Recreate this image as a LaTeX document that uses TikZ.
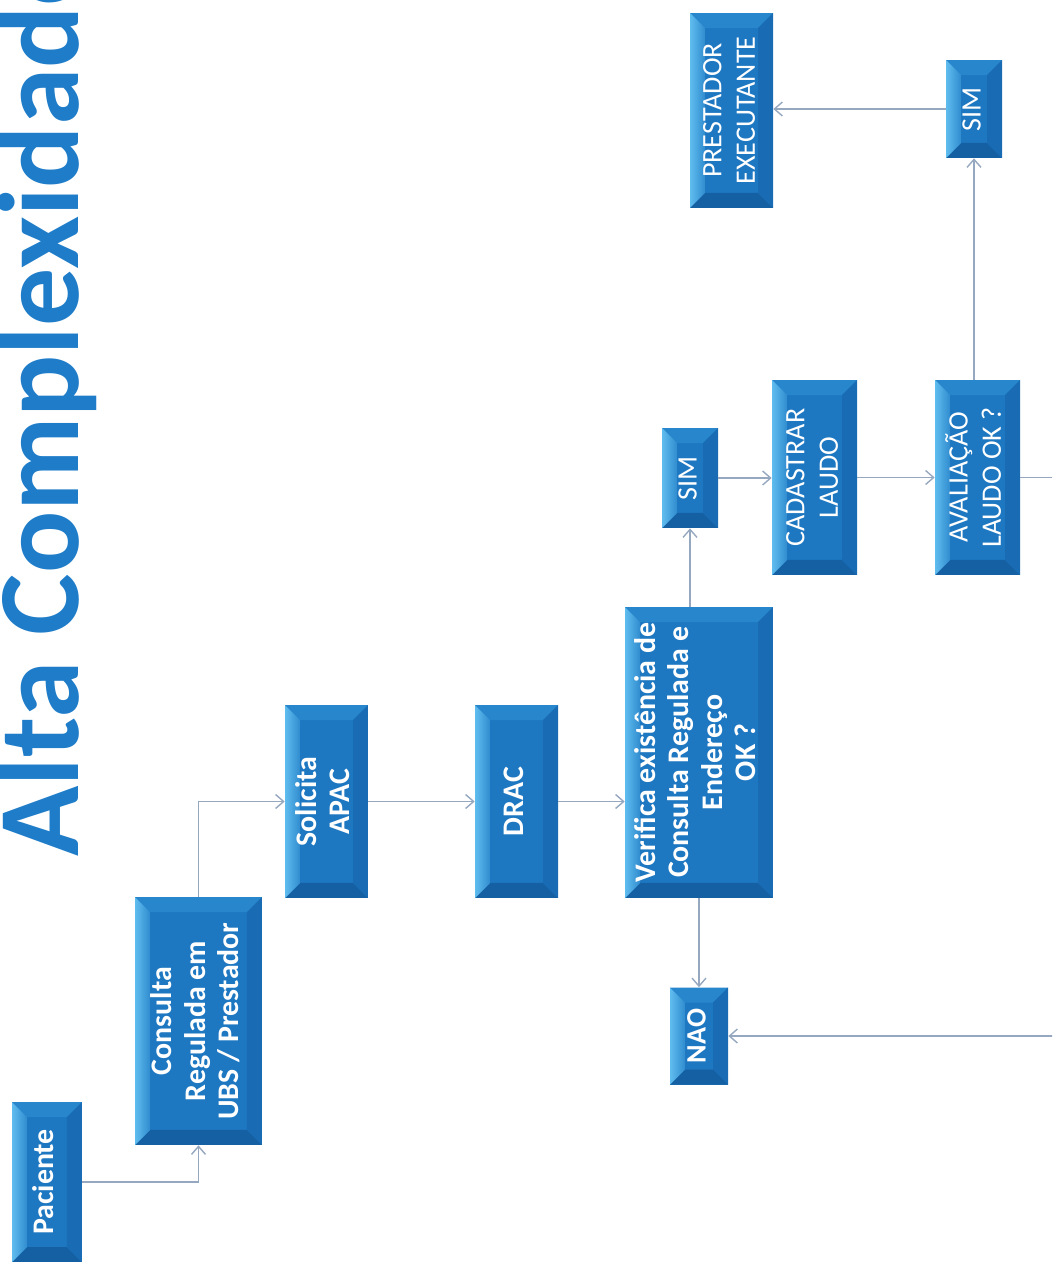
\documentclass[tikz,border=0pt]{standalone}
\usepackage{fontspec}
\setmainfont{Carlito}
\usetikzlibrary{arrows.meta}

\definecolor{boxblue}{RGB}{29,119,193}
\definecolor{bevlight}{RGB}{95,188,238}
\definecolor{bevtop}{RGB}{40,134,205}
\definecolor{bevdark}{RGB}{21,96,162}
\definecolor{bevright}{RGB}{25,108,180}
\definecolor{linegray}{RGB}{150,168,192}
\definecolor{titleblue}{RGB}{30,124,200}

\newcommand{\vtext}[1]{\rotatebox{90}{\begin{tabular}{@{}c@{}}#1\end{tabular}}}
\newcommand{\bv}{0.3cm}

\tikzset{
  box/.style={fill=boxblue, inner sep=0pt, text=white,
    font=\bfseries\fontsize{17}{19}\selectfont,
    path picture={
      \fill[bevtop] (path picture bounding box.north west) -- (path picture bounding box.north east)
        -- ([shift={(-\bv,-\bv)}]path picture bounding box.north east) -- ([shift={(\bv,-\bv)}]path picture bounding box.north west) -- cycle;
      \fill[bevdark] (path picture bounding box.south west) -- (path picture bounding box.south east)
        -- ([shift={(-\bv,\bv)}]path picture bounding box.south east) -- ([shift={(\bv,\bv)}]path picture bounding box.south west) -- cycle;
      \fill[bevright] (path picture bounding box.north east) -- (path picture bounding box.south east)
        -- ([shift={(-\bv,\bv)}]path picture bounding box.south east) -- ([shift={(-\bv,-\bv)}]path picture bounding box.north east) -- cycle;
      \shade[left color=bevlight, right color=boxblue!70!bevlight] (path picture bounding box.south west) -- (path picture bounding box.north west)
        -- ([shift={(\bv,-\bv)}]path picture bounding box.north west) -- ([shift={(\bv,\bv)}]path picture bounding box.south west) -- cycle;
    }},
  capbox/.style={box, font=\fontsize{16}{19}\selectfont},
  flow/.style={draw=linegray, line width=0.8pt, -{Straight Barb[length=1.6mm,width=2.8mm]}},
}

\begin{document}
\begin{tikzpicture}[x=0.02cm, y=-0.02cm]
  \path[use as bounding box, clip] (0,0) rectangle (1052,1263);

  \node[anchor=base west, rotate=90, inner sep=0pt, text=titleblue, font=\bfseries\fontsize{66}{70}\selectfont] (title) at (78,857) {Alta Complexidade};

  \node[box, minimum width=1.4cm, minimum height=3.2cm] (pac) at (47,1182) {\vtext{Paciente}};
  \node[box, minimum width=2.54cm, minimum height=4.96cm] (cons) at (198.5,1021) {\vtext{Consulta\\Regulada em\\UBS / Prestador}};
  \node[box, minimum width=1.66cm, minimum height=3.86cm] (sol) at (326.5,801.5) {\vtext{Solicita\\APAC}};
  \node[box, minimum width=1.66cm, minimum height=3.86cm] (drac) at (516.5,801.5) {\vtext{DRAC}};
  \node[box, minimum width=2.96cm, minimum height=5.82cm] (ver) at (699,752.5) {\vtext{Verifica existência de\\Consulta Regulada e\\Endereço\\OK ?}};
  \node[capbox, minimum width=1.12cm, minimum height=2cm] (sim1) at (690,478) {\vtext{SIM}};
  \node[box, font=\bfseries\fontsize{16}{19}\selectfont, minimum width=1.16cm, minimum height=1.94cm] (nao) at (699,1036) {\vtext{NAO}};
  \node[capbox, minimum width=1.7cm, minimum height=3.9cm] (cad) at (814.5,477.5) {\vtext{CADASTRAR\\LAUDO}};
  \node[capbox, minimum width=1.7cm, minimum height=3.9cm] (ava) at (977.5,477.5) {\vtext{AVALIAÇÃO\\LAUDO OK ?}};
  \node[capbox, minimum width=1.12cm, minimum height=1.96cm] (sim2) at (974,109) {\vtext{SIM}};
  \node[capbox, minimum width=1.66cm, minimum height=3.9cm] (prest) at (731.5,110.5) {\vtext{PRESTADOR\\EXECUTANTE}};
  \coordinate (back) at (1085,0);

  \draw[flow] (pac.east) -| (cons.south);
  \draw[flow] (cons.north) |- (sol.west);
  \draw[flow] (sol.east) -- (drac.west);
  \draw[flow] (drac.east) -- (drac.east -| ver.west);
  \draw[flow] (ver.north -| sim1.south) -- (sim1.south);
  \draw[flow] (ver.south -| nao.north) -- (nao.north);
  \draw[flow] (sim1.east) -- (sim1.east -| cad.west);
  \draw[flow] (cad.east) -- (ava.west);
  \draw[flow] (ava.north -| sim2.south) -- (sim2.south);
  \draw[flow] (sim2.west) -- (sim2.west -| prest.east);
  \draw[flow] (ava.east) -- (ava.east -| back) |- (nao.east);
\end{tikzpicture}
\end{document}
